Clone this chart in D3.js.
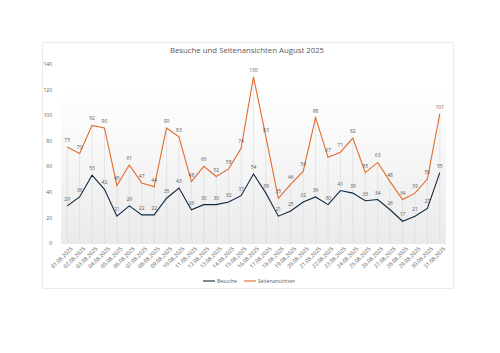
<!DOCTYPE html>
<html>
<head>
<meta charset="utf-8">
<script src="https://cdn.jsdelivr.net/npm/d3@7"></script>
<style>
  body { margin: 0; background: #fff; }
  text { font-family: "Open Sans", sans-serif; }
</style>
</head>
<body>
<div id="container"></div>
<script>
let w = 500;
let h = 353;

// data
let days = ["01.08.2025","02.08.2025","03.08.2025","04.08.2025","05.08.2025","06.08.2025","07.08.2025","08.08.2025",
  "09.08.2025","10.08.2025","11.08.2025","12.08.2025","13.08.2025","14.08.2025","15.08.2025","16.08.2025",
  "17.08.2025","18.08.2025","19.08.2025","20.08.2025","21.08.2025","22.08.2025","23.08.2025","24.08.2025",
  "25.08.2025","26.08.2025","27.08.2025","28.08.2025","29.08.2025","30.08.2025","31.08.2025"];
let besuche = [29,36,53,42,21,29,22,22,35,43,26,30,30,32,37,54,39,21,25,32,36,30,41,39,33,34,26,17,21,27,55];
let seiten = [75,70,92,90,45,61,47,44,90,83,48,60,52,58,74,130,83,35,46,56,98,67,71,82,55,63,48,34,39,50,101];
let yTicks = [0,20,40,60,80,100,120,140];

let margin = { top: 64, right: 54, bottom: 110, left: 61 };

let svg = d3.select("#container")
  .append("svg")
  .attr("width", w)
  .attr("height", h);

// chart frame
svg.append("rect")
  .attr("x", 42.5).attr("y", 42.5)
  .attr("width", 411).attr("height", 246)
  .attr("fill", "#fff")
  .attr("stroke", "#ebebeb")
  .attr("stroke-width", 1);

let xScale = d3.scaleBand()
  .domain(days)
  .range([margin.left, w - margin.right]);

let yScale = d3.scaleLinear()
  .domain([0, 140])
  .range([h - margin.bottom, margin.top]);

let cx = d => xScale(d) + xScale.bandwidth() / 2;

// plot background gradient
let grad = svg.append("defs").append("linearGradient")
  .attr("id", "bg").attr("x1", 0).attr("y1", 0).attr("x2", 0).attr("y2", 1);
grad.append("stop").attr("offset", "0%").attr("stop-color", "#ffffff");
grad.append("stop").attr("offset", "100%").attr("stop-color", "#ebebeb");

svg.append("rect")
  .attr("x", margin.left)
  .attr("y", yScale(120))
  .attr("width", w - margin.right - margin.left)
  .attr("height", yScale(0) - yScale(120))
  .attr("fill", "url(#bg)");

// drop lines
svg.append("g")
  .selectAll("line")
  .data(days)
  .join("line")
  .attr("x1", d => cx(d)).attr("x2", d => cx(d))
  .attr("y1", (d, i) => yScale(Math.max(seiten[i], besuche[i])))
  .attr("y2", yScale(0))
  .attr("stroke", "#d9d9d9")
  .attr("stroke-width", 0.6);

// y axis
let yAxis = svg.append("g")
  .attr("transform", "translate(" + margin.left + ",0)")
  .call(d3.axisLeft(yScale).tickValues(yTicks).tickSize(0).tickPadding(9));
yAxis.select(".domain").remove();
yAxis.selectAll("text").attr("fill", "#595959").style("font-size", "5px");

// x axis
let xAxis = svg.append("g")
  .attr("transform", "translate(0," + yScale(0) + ")")
  .call(d3.axisBottom(xScale).tickSize(0).tickPadding(4));
xAxis.select(".domain").attr("stroke", "#d9d9d9").attr("stroke-width", 0.6);
xAxis.selectAll("text")
  .attr("fill", "#595959")
  .style("font-size", "5.5px")
  .attr("text-anchor", "end")
  .attr("dy", "0.3em")
  .attr("transform", "translate(2,2) rotate(-45)");

let line = d3.line()
  .x(d => cx(d[0]))
  .y(d => yScale(d[1]));

let series = [
  { name: "Besuche", values: besuche, color: "#0e2841" },
  { name: "Seitenansichten", values: seiten, color: "#e26b2c" }
];

series.forEach(function (s) {
  svg.append("path")
    .datum(days.map((d, i) => [d, s.values[i]]))
    .attr("fill", "none")
    .attr("stroke", s.color)
    .attr("stroke-width", 1.1)
    .attr("d", line);

  svg.append("g")
    .selectAll("text")
    .data(days)
    .join("text")
    .attr("x", d => cx(d))
    .attr("y", (d, i) => yScale(s.values[i]) - 5)
    .attr("text-anchor", "middle")
    .attr("fill", "#595959")
    .style("font-size", "5px")
    .text((d, i) => s.values[i]);
});

// title
svg.append("text")
  .attr("x", 247)
  .attr("y", 53)
  .attr("text-anchor", "middle")
  .attr("fill", "#595959")
  .style("font-size", "7.8px")
  .text("Besuche und Seitenansichten August 2025");

// legend
let legend = svg.append("g").attr("transform", "translate(203,281)");
let lx = 0;
series.forEach(function (s) {
  legend.append("line")
    .attr("x1", lx).attr("x2", lx + 12)
    .attr("y1", 0).attr("y2", 0)
    .attr("stroke", s.color).attr("stroke-width", 1.1);
  legend.append("text")
    .attr("x", lx + 14).attr("y", 1.8)
    .attr("fill", "#595959")
    .style("font-size", "5px")
    .text(s.name);
  lx += 41;
});
</script>
</body>
</html>
